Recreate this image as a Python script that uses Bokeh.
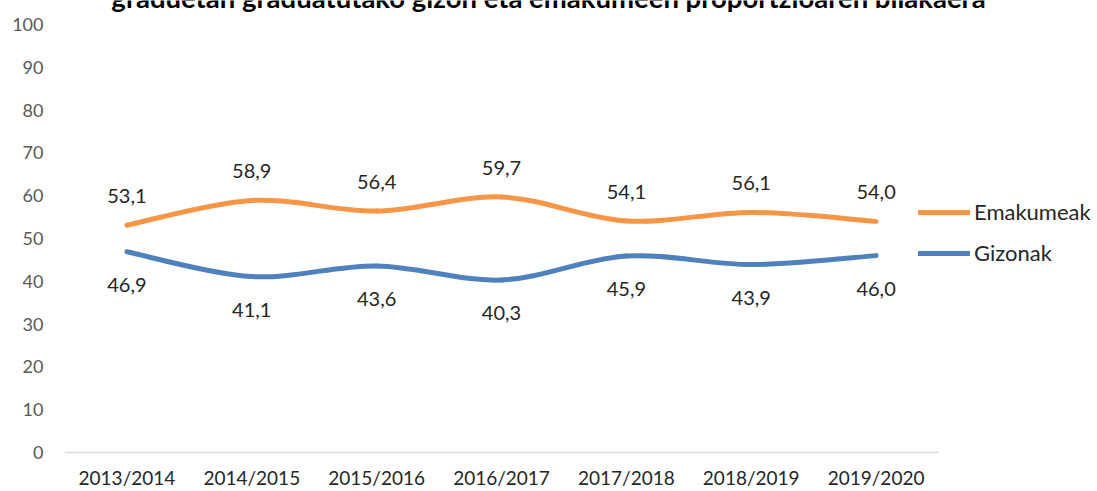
from bokeh.plotting import figure
from bokeh.models import (Range1d, FixedTicker, ColumnDataSource, Legend, LegendItem, Label)
from bokeh.core.properties import value
from bokeh.embed import file_html
from bokeh.resources import INLINE

categories = ["2013/2014", "2014/2015", "2015/2016", "2016/2017", "2017/2018", "2018/2019", "2019/2020"]
emakumeak = [53.1, 58.9, 56.4, 59.7, 54.1, 56.1, 54.0]
gizonak = [46.9, 41.1, 43.6, 40.3, 45.9, 43.9, 46.0]
series_names = ["Emakumeak", "Gizonak"]
colors = ["#F79646", "#4F81BD"]
title_text = "graduetan graduatutako gizon eta emakumeen proportzioaren bilakaera"

FONT = "Lato"
W, H = 1097, 491
LEFT = 64            # frame left
B_ASSUMED = 465      # frame bottom (canvas px) = H - x-axis extent
ZERO_PX = 452        # where value 0 sits
PX_PER_UNIT = 4.28
CAT_PX = 124.86      # width of one category

ncat = len(categories)
x_end = -0.5 + (W - LEFT) / CAT_PX
y_min = -(B_ASSUMED - ZERO_PX) / PX_PER_UNIT
y_max = ZERO_PX / PX_PER_UNIT

p = figure(width=W, height=H, output_backend="svg", toolbar_location=None,
           x_range=Range1d(-0.5, x_end), y_range=Range1d(y_min, y_max),
           min_border_left=LEFT, min_border_right=0, min_border_top=0, min_border_bottom=0)
p.outline_line_color = None
p.grid.grid_line_color = None
p.background_fill_color = "white"
p.border_fill_color = "white"

xs = list(range(ncat))
p.xaxis.ticker = FixedTicker(ticks=xs)
p.xaxis.major_label_overrides = {i: c for i, c in enumerate(categories)}
p.xaxis.axis_line_color = None
p.xaxis.major_tick_line_color = None
p.xaxis.minor_tick_line_color = None
p.xaxis.major_tick_out = 0
p.xaxis.major_tick_in = 0
p.xaxis.major_label_text_font = FONT
p.xaxis.major_label_text_font_size = "19px"
p.xaxis.major_label_text_color = "#262626"
p.xaxis.major_label_standoff = 0

p.yaxis.ticker = FixedTicker(ticks=list(range(0, 101, 10)))
p.yaxis.axis_line_color = None
p.yaxis.major_tick_line_color = None
p.yaxis.minor_tick_line_color = None
p.yaxis.major_tick_out = 0
p.yaxis.major_tick_in = 0
p.yaxis.major_label_text_font = FONT
p.yaxis.major_label_text_font_size = "18px"
p.yaxis.major_label_text_color = "#595959"
p.yaxis.major_label_standoff = 21

# category axis baseline
p.segment(x0=[-0.5], y0=[0], x1=[ncat - 0.5], y1=[0], line_color="#d9d9d9", line_width=1.5)


def smooth_segments(xv, yv):
    n = len(xv)
    d = dict(x0=[], y0=[], x1=[], y1=[], cx0=[], cy0=[], cx1=[], cy1=[])
    for i in range(n - 1):
        xm, ym = (xv[i - 1], yv[i - 1]) if i > 0 else (xv[i], yv[i])
        xp, yp = (xv[i + 2], yv[i + 2]) if i + 2 < n else (xv[i + 1], yv[i + 1])
        d["x0"].append(xv[i]); d["y0"].append(yv[i])
        d["x1"].append(xv[i + 1]); d["y1"].append(yv[i + 1])
        d["cx0"].append(xv[i] + (xv[i + 1] - xm) / 6.0)
        d["cy0"].append(yv[i] + (yv[i + 1] - ym) / 6.0)
        d["cx1"].append(xv[i + 1] - (xp - xv[i]) / 6.0)
        d["cy1"].append(yv[i + 1] - (yp - yv[i]) / 6.0)
    return ColumnDataSource(d)


renderers = []
for vals, col, off in [(emakumeak, colors[0], -29), (gizonak, colors[1], 33)]:
    src = smooth_segments(xs, vals)
    r = p.bezier(x0="x0", y0="y0", x1="x1", y1="y1", cx0="cx0", cy0="cy0", cx1="cx1", cy1="cy1",
                 source=src, line_color=col, line_width=5, line_cap="round")
    renderers.append(r)
    lab = ColumnDataSource(dict(x=xs, y=vals, t=[f"{v:.1f}".replace(".", ",") for v in vals]))
    p.text(x="x", y="y", text="t", source=lab, text_align="center", text_baseline="middle",
           y_offset=off, text_font=value(FONT), text_font_size="20px", text_color="#262626")

legend = Legend(items=[LegendItem(label=series_names[0], renderers=[renderers[0]]),
                       LegendItem(label=series_names[1], renderers=[renderers[1]])],
                location=(854, B_ASSUMED - 266), orientation="vertical")
legend.background_fill_alpha = 0
legend.border_line_color = None
legend.padding = 0
legend.margin = 0
legend.spacing = 14
legend.glyph_width = 52
legend.glyph_height = 20
legend.label_height = 20
legend.label_standoff = 4
legend.label_text_font = FONT
legend.label_text_font_size = "22px"
legend.label_text_color = "#262626"
p.add_layout(legend, "center")

title = Label(x=548 - LEFT, y=B_ASSUMED + 3, x_units="screen", y_units="screen", text=title_text,
              text_align="center", text_baseline="alphabetic", text_font=FONT,
              text_font_size="27.5px", text_font_style="bold", text_color="#000000")
p.add_layout(title)

open("out.html", "w").write(file_html(p, INLINE))
